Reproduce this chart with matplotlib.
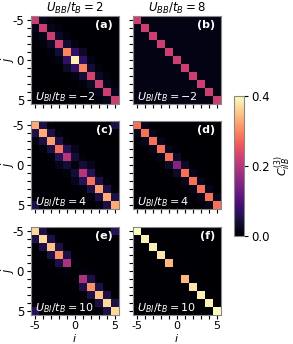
import numpy as np
import matplotlib
matplotlib.use("Agg")
import matplotlib.pyplot as plt

plt.rcParams['axes.unicode_minus'] = False
plt.rcParams['font.size'] = 8

sites = np.arange(-5, 6)

# diagonal, first off-diagonal, second off-diagonal, corner and background values
diag_a = [0.22, 0.22, 0.22, 0.23, 0.30, 0.39, 0.30, 0.23, 0.22, 0.22, 0.22]
off1_a = [0.02, 0.02, 0.03, 0.04, 0.07, 0.07, 0.04, 0.03, 0.02, 0.02]
off2_a = [0.01, 0.01, 0.01, 0.015, 0.03, 0.015, 0.01, 0.01, 0.01]

diag_b = [0.22] * 11
off1_b = [0.015] * 10
off2_b = [0.015] * 9

diag_c = [0.33, 0.33, 0.32, 0.28, 0.20, 0.01, 0.20, 0.28, 0.32, 0.33, 0.33]
off1_c = [0.05, 0.05, 0.05, 0.06, 0.04, 0.04, 0.06, 0.05, 0.05, 0.05]
off2_c = [0.01, 0.01, 0.01, 0.02, 0.01, 0.02, 0.01, 0.01, 0.01]
corner_c = 0.05

diag_d = [0.28, 0.28, 0.28, 0.28, 0.28, 0.15, 0.28, 0.28, 0.28, 0.28, 0.28]
off1_d = [0.02, 0.02, 0.02, 0.02, 0.03, 0.03, 0.02, 0.02, 0.02, 0.02]
off2_d = [0.005] * 9

diag_e = [0.37, 0.37, 0.35, 0.31, 0.19, 0.0, 0.19, 0.31, 0.35, 0.37, 0.37]
off1_e = [0.05, 0.05, 0.05, 0.05, 0.01, 0.01, 0.05, 0.05, 0.05, 0.05]
off2_e = [0.005] * 9
corner_e = 0.06

diag_f = [0.40, 0.39, 0.39, 0.38, 0.34, 0.0, 0.34, 0.38, 0.39, 0.39, 0.40]
off1_f = [0.005] * 10
off2_f = [0.003] * 9

background = {'a': 0.003, 'b': 0.015, 'c': 0.003, 'd': 0.003, 'e': 0.002, 'f': 0.002}

uBB = [2, 8]
uBI = [-2, 4, 10]


def build(diag, off1, off2, bg, corner=None):
    m = np.full((11, 11), bg, dtype=float)
    idx = np.arange(11)
    m[idx, idx] = diag
    for k, vals in ((1, off1), (2, off2)):
        n = np.arange(11 - k)
        m[n, n + k] = vals
        m[n + k, n] = vals
    if corner is not None:
        m[0, -1] = m[-1, 0] = corner
    return m


mats = {
    'a': build(diag_a, off1_a, off2_a, background['a']),
    'b': build(diag_b, off1_b, off2_b, background['b']),
    'c': build(diag_c, off1_c, off2_c, background['c'], corner_c),
    'd': build(diag_d, off1_d, off2_d, background['d']),
    'e': build(diag_e, off1_e, off2_e, background['e'], corner_e),
    'f': build(diag_f, off1_f, off2_f, background['f']),
}

W, H = 293, 344
fig = plt.figure(figsize=(W / 100, H / 100), dpi=100)

lefts = [31, 133]
tops = [16, 121, 227]
size = 88
letters = [['a', 'b'], ['c', 'd'], ['e', 'f']]

im = None
for r in range(3):
    for c in range(2):
        key = letters[r][c]
        ax = fig.add_axes([lefts[c] / W, 1 - (tops[r] + size) / H, size / W, size / H])
        im = ax.imshow(mats[key], cmap='magma', vmin=0, vmax=0.4,
                       extent=(-5.5, 5.5, 5.5, -5.5), interpolation='nearest')
        ax.set_xticks(sites)
        ax.set_yticks(sites)
        lab = [str(s) if s in (-5, 0, 5) else '' for s in sites]
        ax.set_xticklabels(lab if r == 2 else [''] * 11)
        ax.set_yticklabels(lab if c == 0 else [''] * 11)
        ax.tick_params(length=3, width=0.8, pad=2, labelsize=8.5)
        ax.tick_params(axis='x', pad=1, labelsize=8)
        for sp in ax.spines.values():
            sp.set_color('#888888')
            sp.set_linewidth(0.8)
        ax.text(0.93, 0.9, f'({key})', transform=ax.transAxes, color='white',
                fontweight='bold', fontsize=8, ha='right', va='center')
        ax.text(0.05, 0.08, f'$U_{{BI}}/t_B = {uBI[r]}$', transform=ax.transAxes,
                color='white', fontsize=8, ha='left', va='center')
        if r == 0:
            ax.set_title(f'$U_{{BB}}/t_B = {uBB[c]}$', fontsize=8.5, pad=3)
        if c == 0:
            fig.text(8 / W, 1 - (tops[r] + size / 2) / H, '$j$', fontsize=8.5,
                     rotation=90, ha='center', va='center')
        if r == 2:
            fig.text((lefts[c] + size / 2) / W, 1 - 338.5 / H, '$i$', fontsize=8,
                     ha='center', va='center')

cax = fig.add_axes([234 / W, 1 - 236 / H, 10 / W, 140 / H])
cb = fig.colorbar(im, cax=cax, ticks=[0.0, 0.2, 0.4])
cb.ax.tick_params(length=3, width=0.8, labelsize=8.5, pad=2)
cb.outline.set_edgecolor('#888888')
cb.set_label('$C^{(3)}_{iIB}$', fontsize=8, labelpad=2)

fig.savefig('out.png', dpi=100)
